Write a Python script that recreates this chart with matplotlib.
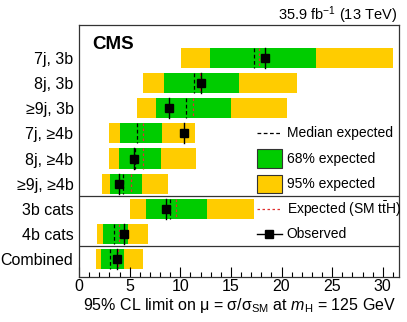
import matplotlib
matplotlib.use("Agg")
import matplotlib.pyplot as plt
from matplotlib.patches import Rectangle
from matplotlib.ticker import MultipleLocator

plt.rcParams['font.family'] = ['Liberation Sans', 'DejaVu Sans']
plt.rcParams['mathtext.fontset'] = 'custom'
plt.rcParams['mathtext.rm'] = 'Liberation Sans'
plt.rcParams['mathtext.it'] = 'Liberation Sans:italic'
plt.rcParams['mathtext.bf'] = 'Liberation Sans:bold'

categories = ["7j, 3b", "8j, 3b", "≥9j, 3b", "7j, ≥4b", "8j, ≥4b", "≥9j, ≥4b",
              "3b cats", "4b cats", "Combined"]
low95 = [10.07, 6.32, 5.69, 2.99, 2.96, 2.30, 5.07, 1.78, 1.68]
low68 = [12.93, 8.36, 7.60, 4.05, 3.95, 3.06, 6.58, 2.40, 2.20]
high68 = [23.36, 15.82, 14.97, 8.19, 8.09, 6.25, 12.67, 4.80, 4.47]
high95 = [30.96, 21.52, 20.50, 11.42, 11.52, 8.79, 17.31, 6.78, 6.28]
median = [17.27, 11.35, 10.56, 5.69, 5.55, 4.38, 9.02, 3.42, 3.09]
expected_sm = [17.73, 11.94, 11.28, 6.28, 6.32, 5.10, 9.61, 3.98, 3.85]
observed = [18.39, 12.08, 8.92, 10.40, 5.43, 3.98, 8.56, 4.47, 3.75]

GREEN = "#00CC00"
YELLOW = "#FFCC00"

fig = plt.figure(figsize=(4.07, 3.22), dpi=100)
ax = fig.add_axes([0.1941, 0.1398, 0.9803 - 0.1941, 0.9224 - 0.1398])

h = 0.8
for i in range(len(categories)):
    ax.barh(i, high95[i] - low95[i], left=low95[i], height=h, color=YELLOW, linewidth=0)
    ax.barh(i, high68[i] - low68[i], left=low68[i], height=h, color=GREEN, linewidth=0)
    ax.plot([median[i]] * 2, [i - h / 2, i + h / 2], color="black", ls=(0, (3, 2)), lw=0.9)
    ax.plot([expected_sm[i]] * 2, [i - h / 2, i + h / 2], color="#E03030", ls=(0, (2, 2)), lw=0.9)
    ax.plot([observed[i]] * 2, [i - h / 2, i + h / 2], color="black", lw=1.0)
    ax.plot(observed[i], i, marker="s", color="black", ms=5.5, ls="none")

for ysep in (5.5, 7.5):
    ax.axhline(ysep, color="#333333", lw=0.9)

ax.set_xlim(0, 31.6)
ax.set_ylim(8.72, -1.32)
ax.set_yticks(range(len(categories)))
ax.set_yticklabels(categories, fontsize=11.5)
ax.tick_params(axis="y", length=0, pad=4)
ax.xaxis.set_major_locator(MultipleLocator(5))
ax.xaxis.set_minor_locator(MultipleLocator(1))
ax.tick_params(axis="x", which="major", direction="in", length=7, width=0.8, labelsize=11.5, pad=1.5)
ax.tick_params(axis="x", which="minor", direction="in", length=3.5, width=0.8)
for s in ax.spines.values():
    s.set_linewidth(0.9)
    s.set_color("#333333")

fig.text(0.5 * (0.1941 + 0.9803), 1 - 310 / 322,
         r"95% CL limit on μ = σ/σ$_{\rm SM}$ at $m_{\rm H}$ = 125 GeV",
         ha="center", va="baseline", fontsize=11.5)

ax.text(0.04, 0.955, "CMS", transform=ax.transAxes, fontsize=13.5, fontweight="bold", va="top", ha="left")
fig.text(0.976, 0.953, r"35.9 fb$^{-1}$ (13 TeV)", ha="right", va="center", fontsize=10.5)

# legend (manual, aligned with rows)
lx0, lx1, tx = 17.57, 20.0, 20.5
lfs = 10
ax.plot([lx0, lx1], [3, 3], color="black", ls=(0, (3, 2)), lw=0.9)
ax.text(tx, 3, "Median expected", va="center", ha="left", fontsize=lfs)
ax.add_patch(Rectangle((lx0, 4 - 0.36), lx1 - lx0, 0.72, facecolor=GREEN, edgecolor="#333333", lw=0.8))
ax.text(tx, 4, "68% expected", va="center", ha="left", fontsize=lfs)
ax.add_patch(Rectangle((lx0, 5 - 0.36), lx1 - lx0, 0.72, facecolor=YELLOW, edgecolor="#333333", lw=0.8))
ax.text(tx, 5, "95% expected", va="center", ha="left", fontsize=lfs)
ax.plot([lx0, lx1], [6, 6], color="#E03030", ls=(0, (2, 2)), lw=0.9)
ax.text(tx, 6, r"Expected (SM t$\bar{\rm t}$H)", va="center", ha="left", fontsize=lfs)
ax.plot([lx0, lx1], [7, 7], color="black", lw=1.0)
ax.plot((lx0 + lx1) / 2, 7, marker="s", color="black", ms=5.5)
ax.text(tx, 7, "Observed", va="center", ha="left", fontsize=lfs)

fig.savefig("out.png", dpi=100)
